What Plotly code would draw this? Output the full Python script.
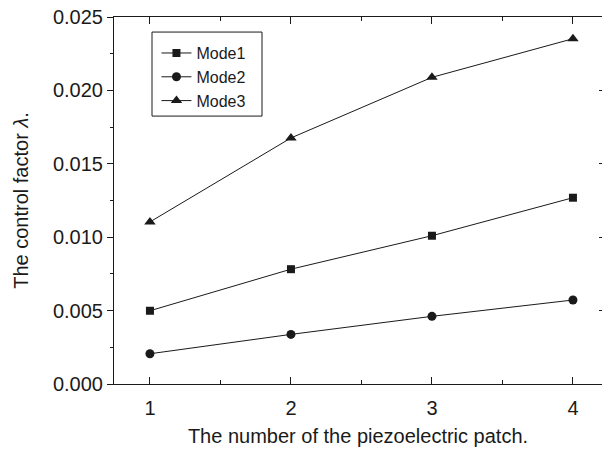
import plotly.graph_objects as go

x_vals = [1, 2, 3, 4]
mode1 = [0.00499, 0.00782, 0.01010, 0.01269]
mode2 = [0.00206, 0.00338, 0.00461, 0.00572]
mode3 = [0.01104, 0.01676, 0.02089, 0.02352]
series_names = ["Mode1", "Mode2", "Mode3"]
y_ticks = [0.000, 0.005, 0.010, 0.015, 0.020, 0.025]
y_ticktext = ["0.000", "0.005", "0.010", "0.015", "0.020", "0.025"]

FONT = "Liberation Sans, Arial, sans-serif"
INK = "#1a1a1a"

fig = go.Figure()
symbols = ["square", "circle", "triangle-up"]
sizes = [8, 9, 10]
for name, ys, sym, sz in zip(series_names, [mode1, mode2, mode3], symbols, sizes):
    fig.add_trace(go.Scatter(
        x=x_vals, y=ys, name=name, mode="lines+markers",
        line=dict(color=INK, width=1),
        marker=dict(symbol=sym, size=sz, color=INK),
    ))

# dummy trace for the right-hand tick axis
fig.add_trace(go.Scatter(x=[x_vals[0]], y=[y_ticks[0]], yaxis="y2", mode="markers",
                         marker=dict(opacity=0), showlegend=False, hoverinfo="skip"))

# legend frame
fig.add_shape(type="rect", xref="paper", yref="paper",
              x0=0.0779, x1=0.3033, y0=0.730, y1=0.959,
              line=dict(color=INK, width=1), fillcolor="rgba(0,0,0,0)", layer="above")

fig.update_layout(
    width=602, height=450,
    margin=dict(l=114, r=0, t=17, b=66),
    paper_bgcolor="white", plot_bgcolor="white",
    font=dict(family=FONT, color=INK, size=20),
    showlegend=True,
    legend=dict(
        x=0.087, y=0.948, xanchor="left", yanchor="top",
        borderwidth=0, bgcolor="rgba(0,0,0,0)",
        font=dict(size=16, family=FONT, color=INK),
        tracegroupgap=0,
    ),
    xaxis=dict(
        range=[0.745, 4.206], tickmode="array", tickvals=x_vals,
        ticktext=[str(v) for v in x_vals],
        ticks="inside", ticklen=7, tickwidth=1, tickcolor=INK,
        ticklabelstandoff=6,
        minor=dict(tickvals=[1.5, 2.5, 3.5], ticks="inside", ticklen=4, tickcolor=INK),
        showline=True, linecolor=INK, linewidth=1, mirror="ticks",
        showgrid=False, zeroline=False,
        tickfont=dict(size=20),
        title=dict(text="The number of the piezoelectric patch.", font=dict(size=20), standoff=10),
    ),
    yaxis=dict(
        range=[0, 0.025], tickmode="array", tickvals=y_ticks, ticktext=y_ticktext,
        ticks="outside", ticklen=6, tickwidth=1, tickcolor=INK,
        minor=dict(tickvals=[0.0025, 0.0075, 0.0125, 0.0175, 0.0225], ticks="outside",
                   ticklen=3, tickcolor=INK),
        showline=True, linecolor=INK, linewidth=1, mirror=False,
        showgrid=False, zeroline=False,
        tickfont=dict(size=20),
        title=dict(text="The control factor <i>λ</i>.", font=dict(size=20), standoff=18),
    ),
    yaxis2=dict(
        overlaying="y", side="right", range=[0, 0.025], tickmode="array",
        tickvals=y_ticks[1:-1], ticks="inside", ticklen=3, tickcolor=INK,
        showticklabels=False, showline=False, showgrid=False, zeroline=False,
    ),
)

fig.write_html("out.html")
